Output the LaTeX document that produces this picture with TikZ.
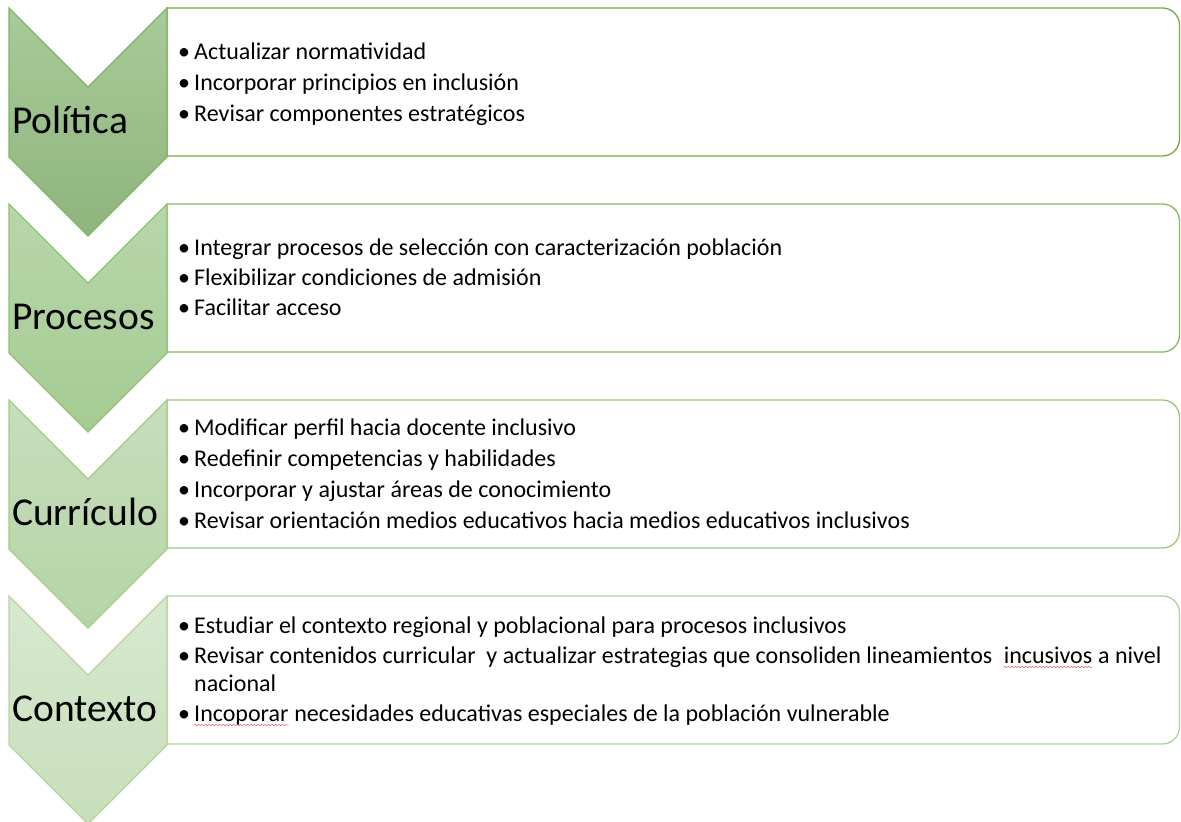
\documentclass[tikz,border=0pt]{standalone}
\usepackage{fontspec}
\setmainfont{Carlito}
\usetikzlibrary{decorations.pathmorphing}
\definecolor{cAt}{HTML}{A9CA9A}\definecolor{cAb}{HTML}{8EB57C}\definecolor{cAd}{HTML}{7DB561}
\definecolor{cBt}{HTML}{B8D6AB}\definecolor{cBb}{HTML}{A5CB93}\definecolor{cBd}{HTML}{8EC270}
\definecolor{cCt}{HTML}{C7DEBC}\definecolor{cCb}{HTML}{B5D4A6}\definecolor{cCd}{HTML}{A0CC86}
\definecolor{cDt}{HTML}{D7E8CF}\definecolor{cDb}{HTML}{C7DEBB}\definecolor{cDd}{HTML}{B4D7A0}
\definecolor{rA}{HTML}{70AD47}\definecolor{rB}{HTML}{84BC60}\definecolor{rC}{HTML}{98C97A}\definecolor{rD}{HTML}{ACD496}
\definecolor{spell}{HTML}{E06060}
\begin{document}
\begin{tikzpicture}[x=1pt,y=-1pt,
  lbl/.style={anchor=base west, inner sep=0pt, font=\fontsize{39.5}{47}\selectfont},
  itm/.style={anchor=base west, inner sep=0pt, font=\fontsize{24}{29}\selectfont},
  bul/.style={anchor=base west, inner sep=0pt, font=\fontsize{24}{29}\selectfont},
  box/.style={line width=1.3pt, fill=white},
  chev/.style={line width=1.2pt},
  wavy/.style={spell, line width=0.5pt, decorate, decoration={snake, amplitude=0.7pt, segment length=3.5pt}}]
\useasboundingbox (0,0) rectangle (1181,822);
\foreach \T/\ct/\cb/\cd/\rb in {8/cAt/cAb/cAd/rA, 204/cBt/cBb/cBd/rB, 400/cCt/cCb/cCd/rC, 596/cDt/cDb/cDd/rD}{
  \draw[box, draw=\rb] (167,\T) -- (1162.5,\T) .. controls (1171.9,\T) and (1179.5,\T+7.6) .. (1179.5,\T+17)
    -- (1179.5,\T+131) .. controls (1179.5,\T+140.4) and (1171.9,\T+148) .. (1162.5,\T+148) -- (167,\T+148) -- cycle;
  \draw[chev, draw=\cd, top color=\ct, bottom color=\cb]
    (9,\T) -- (88,\T+79) -- (167,\T) -- (167,\T+149) -- (88,\T+228) -- (9,\T+149) -- cycle;
}
% labels
\node[lbl] (l1) at (12,133) {Política};
\node[lbl] (l2) at (12,329) {Procesos};
\node[lbl] (l3) at (12,525) {Currículo};
\node[lbl] (l4) at (12,721) {Contexto};
% box 1
\node[bul] (b11) at (178,59) {•};
\node[itm] (t11) at (194,59) {Actualizar normatividad};
\node[bul] (b12) at (178,90) {•};
\node[itm] (t12) at (194,90) {Incorporar principios en inclusión};
\node[bul] (b13) at (178,121) {•};
\node[itm] (t13) at (194,121) {Revisar componentes estratégicos};
% box 2
\node[bul] (b21) at (178,255) {•};
\node[itm] (t21) at (194,255) {Integrar procesos de selección con caracterización población};
\node[bul] (b22) at (178,285) {•};
\node[itm] (t22) at (194,285) {Flexibilizar condiciones de admisión};
\node[bul] (b23) at (178,315) {•};
\node[itm] (t23) at (194,315) {Facilitar acceso};
% box 3
\node[bul] (b31) at (178,435) {•};
\node[itm] (t31) at (194,435) {Modificar perfil hacia docente inclusivo};
\node[bul] (b32) at (178,466) {•};
\node[itm] (t32) at (194,466) {Redefinir competencias y habilidades};
\node[bul] (b33) at (178,497) {•};
\node[itm] (t33) at (194,497) {Incorporar y ajustar áreas de conocimiento};
\node[bul] (b34) at (178,528) {•};
\node[itm] (t34) at (194,528) {Revisar orientación medios educativos hacia medios educativos inclusivos};
% box 4
\node[bul] (b41) at (178,633) {•};
\node[itm] (t41) at (194,633) {Estudiar el contexto regional y poblacional para procesos inclusivos};
\node[bul] (b42) at (178,663) {•};
\node[itm] (t42a) at (194,663) {Revisar contenidos curricular\ \ y actualizar estrategias que consoliden lineamientos};
\node[itm, xshift=11pt] (t42b) at (t42a.base east) {incusivos};
\node[itm, xshift=5.5pt] (t42c) at (t42b.base east) {a nivel};
\node[itm] (t42d) at (194,691) {nacional};
\node[bul] (b43) at (178,721) {•};
\node[itm] (t43a) at (194,721) {Incoporar};
\node[itm, xshift=5.5pt] (t43b) at (t43a.base east) {necesidades educativas especiales de la población vulnerable};
\draw[wavy] ([yshift=-4pt]t42b.base west) -- ([yshift=-4pt]t42b.base east);
\draw[wavy] ([yshift=-4pt]t43a.base west) -- ([yshift=-4pt]t43a.base east);
\end{tikzpicture}
\end{document}
